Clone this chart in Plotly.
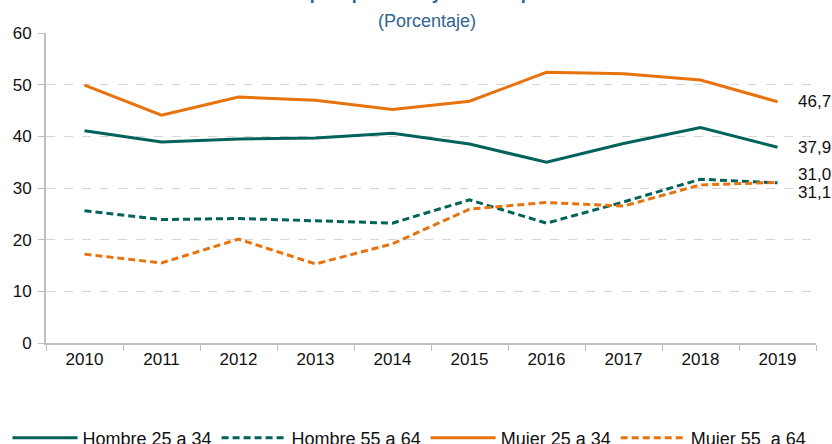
import plotly.graph_objects as go

years = ["2010", "2011", "2012", "2013", "2014", "2015", "2016", "2017", "2018", "2019"]
hombre_25_34 = [41.1, 38.9, 39.5, 39.7, 40.6, 38.5, 35.0, 38.6, 41.7, 37.9]
hombre_55_64 = [25.6, 23.9, 24.1, 23.7, 23.2, 27.7, 23.2, 27.3, 31.7, 31.0]
mujer_25_34 = [49.9, 44.1, 47.6, 47.0, 45.2, 46.8, 52.4, 52.1, 50.9, 46.7]
mujer_55_64 = [17.2, 15.5, 20.1, 15.3, 19.2, 25.9, 27.2, 26.5, 30.6, 31.1]
names = ["Hombre 25 a 34", "Hombre 55 a 64", "Mujer 25 a 34", "Mujer 55  a 64"]
end_labels = ["37,9", "31,0", "46,7", "31,1"]

GREEN = "#00625A"
ORANGE = "#E8720C"
series = [hombre_25_34, hombre_55_64, mujer_25_34, mujer_55_64]
colors = [GREEN, GREEN, ORANGE, ORANGE]
dashes = ["solid", "7px,4px", "solid", "7px,4px"]
yshifts = [0, 8, 0, -10]
FONT = "Liberation Sans, Arial, sans-serif"

fig = go.Figure()
for s, n, c, d in zip(series, names, colors, dashes):
    fig.add_trace(go.Scatter(x=years, y=s, name=n, mode="lines",
                             line=dict(color=c, width=3, dash=d)))

last_idx = len(years) - 1
for s, lab, ys in zip(series, end_labels, yshifts):
    fig.add_annotation(x=last_idx, y=s[-1], text=lab, showarrow=False,
                       xanchor="left", yanchor="middle", xshift=18, yshift=ys,
                       font=dict(size=17, color="#111111"))

fig.add_annotation(xref="paper", yref="paper", x=0.495, y=1.0, yshift=12,
                   text="(Porcentaje)", showarrow=False, xanchor="center", yanchor="middle",
                   font=dict(size=18, color="#2E6591"))
fig.add_annotation(xref="paper", yref="paper", x=0.445, y=1.0, yshift=40,
                   text="<b>Tasa de empleo por sexo y edad. España</b>", showarrow=False,
                   xanchor="center", yanchor="middle",
                   font=dict(size=18, color="#2E6591"))

fig.update_layout(
    width=832, height=444,
    margin=dict(l=46, r=16, t=33, b=101, autoexpand=False),
    paper_bgcolor="white", plot_bgcolor="white",
    font=dict(family=FONT, size=17, color="#111111"),
    showlegend=True,
    legend=dict(orientation="h", x=-0.05, y=-0.307, xanchor="left", yanchor="middle",
                font=dict(size=18, color="#111111"), itemwidth=65),
)
fig.update_xaxes(type="category", range=[-0.5, len(years) - 0.5], showgrid=False,
                 showline=True, linecolor="#BFBFBF",
                 linewidth=2, ticks="outside", tickson="boundaries", ticklen=6,
                 tickcolor="#BFBFBF", tickwidth=1, tickfont=dict(size=17))
fig.update_yaxes(range=[0, 60], dtick=10, showgrid=True, gridcolor="#D6D6D6",
                 griddash="dash", gridwidth=1, showline=True, linecolor="#BFBFBF",
                 linewidth=2, ticks="outside", ticklen=6, tickcolor="#BFBFBF",
                 zeroline=False, tickfont=dict(size=17), ticklabelstandoff=3)

fig.write_html("out.html", config={"displayModeBar": False},
               post_script="document.body.style.margin='0';document.body.style.overflow='hidden';")
